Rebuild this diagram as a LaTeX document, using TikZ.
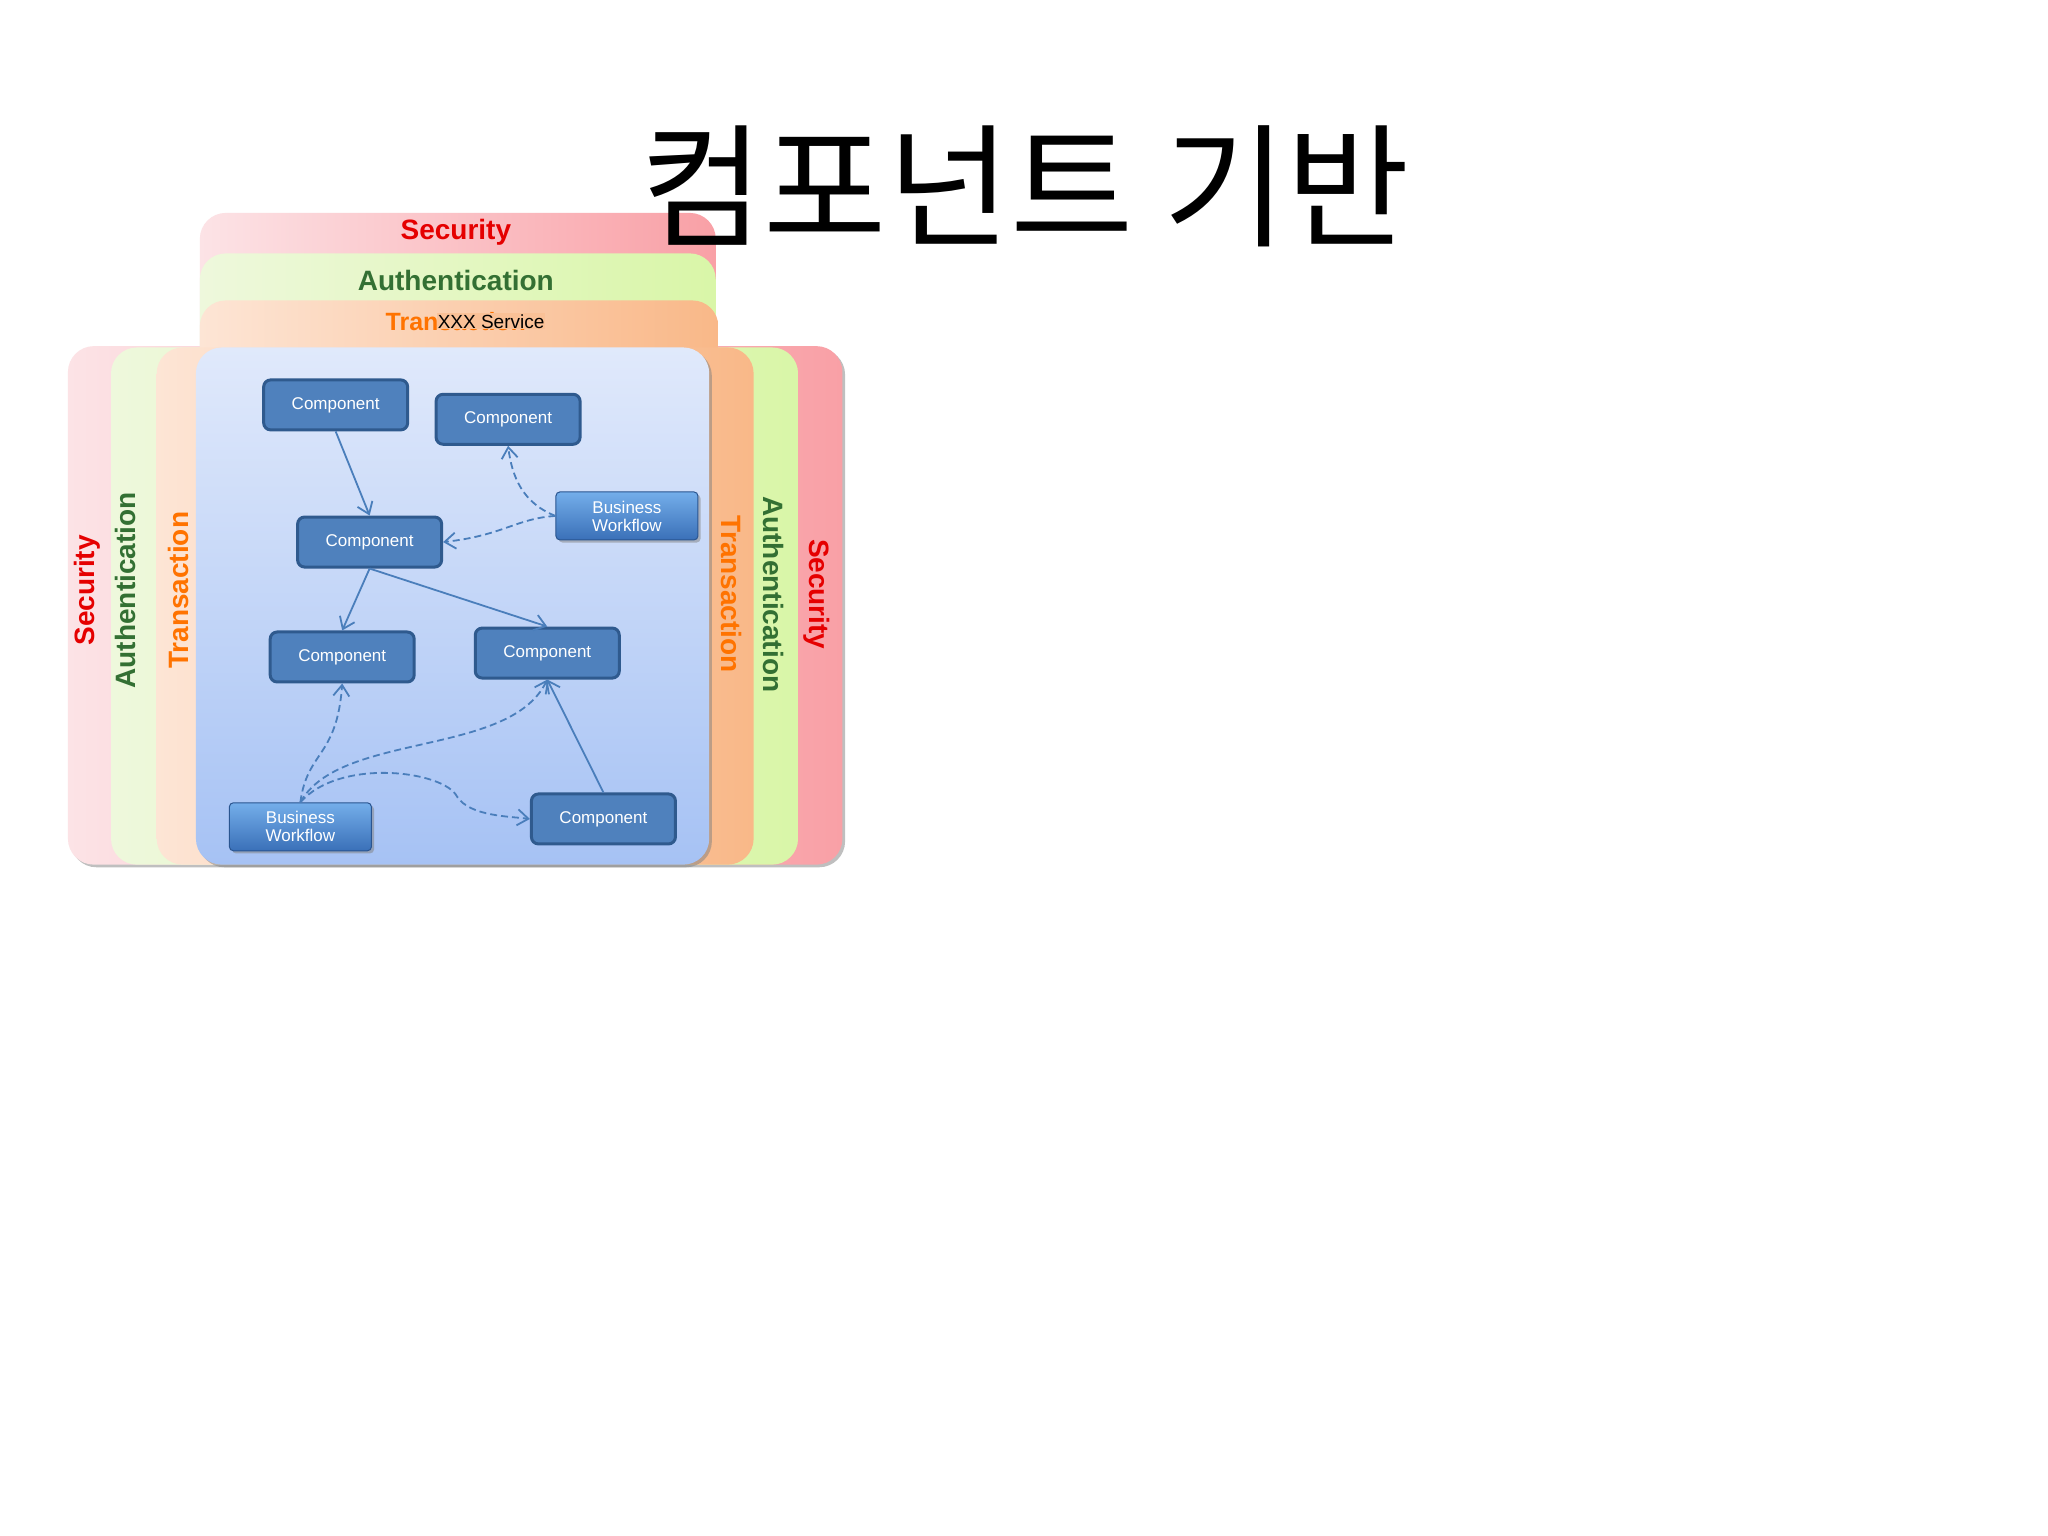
\documentclass[tikz,border=0pt]{standalone}
\usepackage{fontspec}
\setmainfont{Liberation Sans}
\newfontfamily\kr{Noto Sans CJK KR}
\usetikzlibrary{arrows.meta,shadows}
\begin{document}
\begin{tikzpicture}[x=1.306pt,y=-1.306pt,
  panel/.style={rounded corners=26pt},
  comp/.style={line width=3pt, rounded corners=7pt, minimum width=144pt, minimum height=50pt, text=white, font=\fontsize{17}{20}\selectfont},
  bw/.style={draw=bwD, top color=bwL, bottom color=bwM, line width=1pt, rounded corners=4pt, minimum width=142pt, minimum height=48pt, text=white, font=\fontsize{17}{20}\selectfont, align=center, drop shadow},
  lab/.style={font=\bfseries\fontsize{28}{30}\selectfont},
  sol/.style={draw=arr, line width=1.8pt, -{Straight Barb[length=11pt,width=16pt]}},
  das/.style={sol, dash pattern=on 7pt off 4pt}]
\definecolor{secL}{HTML}{FCE3E6}\definecolor{secR}{HTML}{F9A0A6}
\definecolor{autL}{HTML}{EEF8DC}\definecolor{autR}{HTML}{D9F6A8}
\definecolor{trL}{HTML}{FDE5D5}\definecolor{trR}{HTML}{F9B888}
\definecolor{comp}{HTML}{4F81BD}\definecolor{compd}{HTML}{2F5A8E}
\definecolor{bwL}{HTML}{74AEEA}\definecolor{bwM}{HTML}{3A70B8}\definecolor{bwD}{HTML}{2A5590}
\definecolor{arr}{HTML}{4A7EBB}
\definecolor{bgT}{HTML}{E0E9FB}\definecolor{bgB}{HTML}{A6C2F4}
\tikzset{comp/.append style={fill=comp, draw=compd}}
\useasboundingbox (0,0) rectangle (1568,1176);
\fill[white] (0,0) rectangle (1568,1176);
% Security
\path[panel, left color=secL, right color=secR, drop shadow] (52,265) rectangle (645,662);
\path[panel, left color=secL, right color=secR] (153,163) rectangle (548,300);
% Authentication
\path[panel, left color=autL, right color=autR] (153,194) rectangle (548,300);
\path[panel, left color=autL, right color=autR] (85,266) rectangle (611,662);
% Transaction
\path[panel, left color=trL, right color=trR] (153,230) rectangle (550,300);
\path[panel, left color=trL, right color=trR] (120,266) rectangle (577,662);
% Blue
\path[panel, top color=bgT, bottom color=bgB, drop shadow] (150,266) rectangle (543,662);
% labels
\node[lab, text=red!90!black] (ts) at (349,178) {Security};
\node[lab, text=green!30!black!80] (ta) at (349,215) {Authentication};
\node[lab, text=orange!90!red, font=\bfseries\fontsize{25}{27}\selectfont] (tt) at (349,246) {Transaction};
\node[fill=trR!80!trL, inner sep=1pt, font=\fontsize{19}{21}\selectfont] (xs) at (376,246) {XXX Service};
\node[lab, text=red!90!black, rotate=90] (ls) at (67,452) {Security};
\node[lab, text=green!30!black!80, rotate=90] (la) at (96,452) {Authentication};
\node[lab, text=orange!90!red, rotate=90] (lt) at (137,452) {Transaction};
\node[lab, text=orange!90!red, rotate=-90] (rt) at (560,455) {Transaction};
\node[lab, text=green!30!black!80, rotate=-90] (ra) at (592,455) {Authentication};
\node[lab, text=red!90!black, rotate=-90] (rs) at (625,455) {Security};
% title
\node[font=\kr\fontsize{134}{140}\selectfont] (title) at (785,143) {컴포넌트 기반};
% components
\node[comp] (c1) at (257,310) {Component};
\node[comp] (c2) at (389,321) {Component};
\node[bw] (b1) at (480,395) {Business\\[-2pt]Workflow};
\node[comp] (c3) at (283,415) {Component};
\node[comp] (c4) at (262,503) {Component};
\node[comp] (c5) at (419,500) {Component};
\node[bw] (b2) at (230,633) {Business\\[-2pt]Workflow};
\node[comp] (c6) at (462,627) {Component};
% connectors
\draw[sol] (c1.south) -- (c3.north);
\draw[das] (b1.west) .. controls (395,397) and (385,410) .. (c3.east);
\draw[das] (b1.west) .. controls (400,385) and (392,365) .. (c2.south);
\draw[sol] (c3.south) -- (c4.north);
\draw[sol] (c3.south) -- (c5.north);
\draw[das] (b2.north) .. controls (235,575) and (258,580) .. (c4.south);
\draw[das] (b2.north) .. controls (260,560) and (390,580) .. (c5.south);
\draw[das] (b2.north) .. controls (260,580) and (340,590) .. (350,610) .. controls (360,625) and (390,625) .. (c6.west);
\draw[sol] (c6.north) -- (c5.south);
\end{tikzpicture}
\end{document}
